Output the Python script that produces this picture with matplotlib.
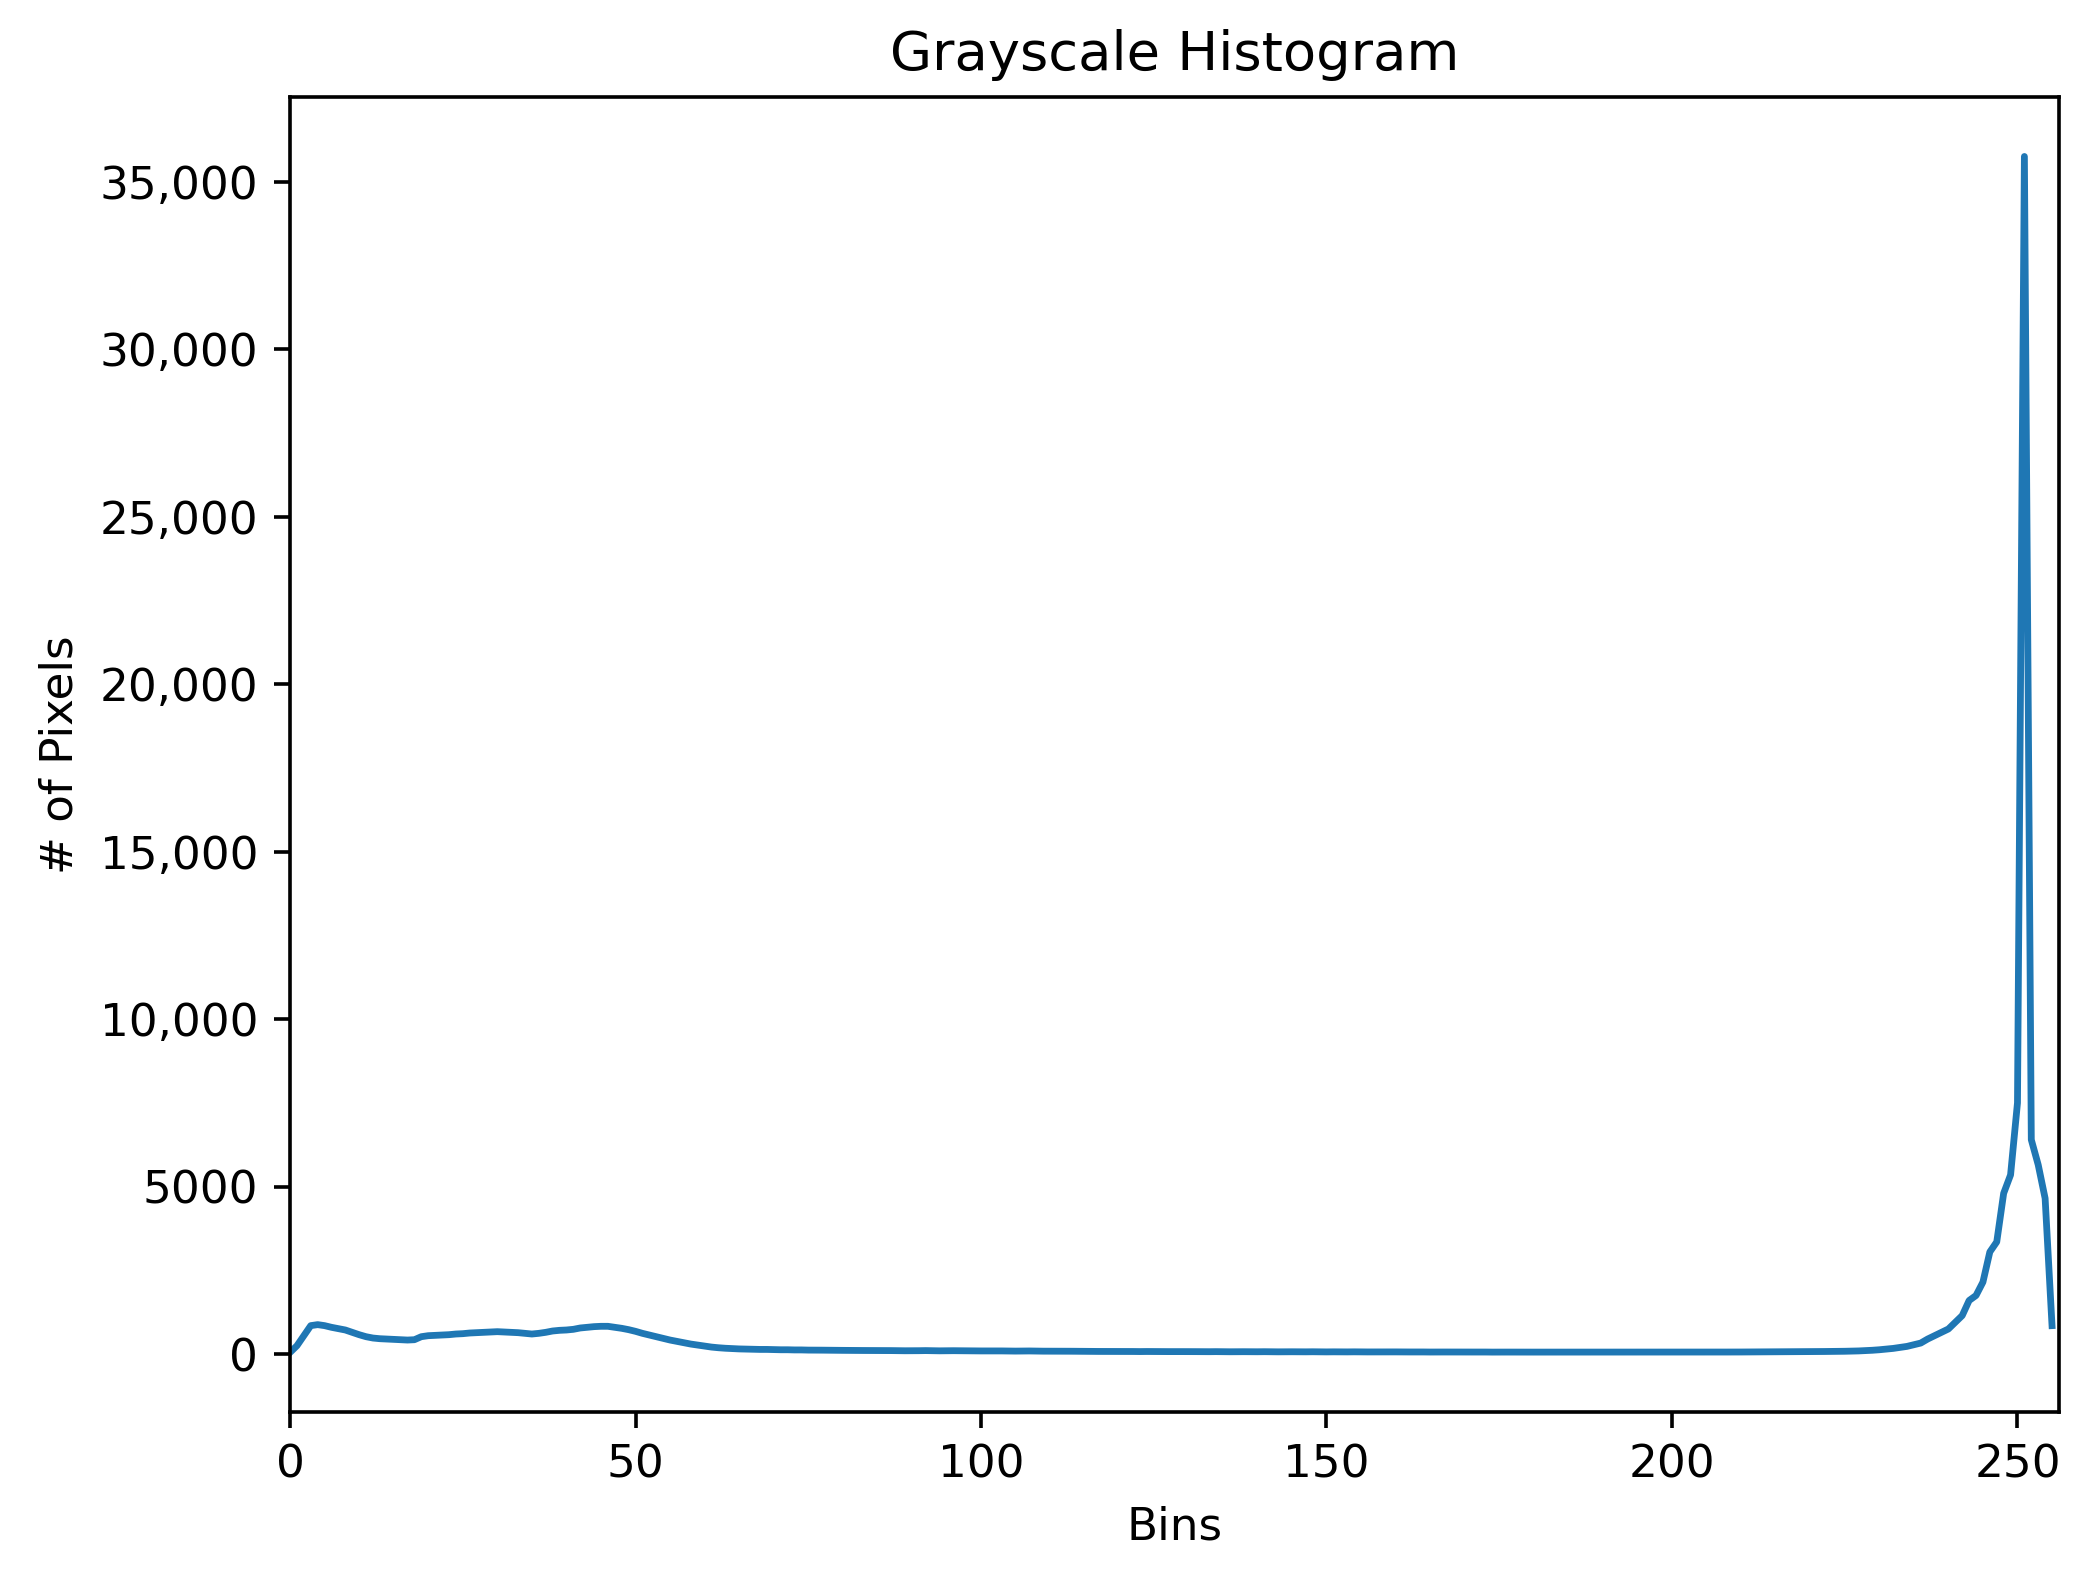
import matplotlib
matplotlib.use("Agg")
import matplotlib.pyplot as plt

# 灰度直方图：每个 bin 的像素数
bins = list(range(256))
pixels = [
    50, 250, 550, 850, 880, 850, 800, 760, 720, 650, 580, 520, 480, 460, 450, 440,
    430, 420, 430, 520, 550, 560, 570, 580, 600, 610, 630, 640, 650, 660, 670, 660,
    650, 640, 620, 600, 620, 650, 690, 710, 720, 740, 780, 800, 820, 830, 830, 800,
    770, 730, 680, 620, 570, 520, 470, 420, 380, 340, 300, 270, 240, 210, 190, 175,
    165, 155, 150, 145, 140, 140, 135, 130, 130, 125, 125, 120, 120, 118, 115, 115,
    112, 110, 110, 108, 108, 105, 105, 105, 102, 100, 100, 102, 105, 100, 98, 100,
    102, 100, 98, 96, 95, 96, 98, 95, 92, 90, 92, 94, 90, 88, 88, 86,
    85, 86, 84, 82, 82, 80, 80, 82, 80, 78, 78, 76, 78, 76, 75, 75,
    74, 75, 76, 74, 72, 72, 74, 72, 70, 72, 72, 70, 70, 72, 70, 68,
    70, 70, 68, 68, 70, 68, 66, 68, 66, 66, 68, 66, 65, 66, 64, 65,
    66, 64, 64, 65, 64, 62, 64, 63, 62, 64, 62, 62, 63, 62, 60, 62,
    61, 60, 62, 61, 60, 60, 61, 62, 60, 61, 60, 60, 62, 61, 60,
    62, 60, 62, 60, 60, 62, 60, 60, 61, 60, 60, 62, 60, 60, 62, 62,
    63, 62, 64, 63, 64, 65, 66, 66, 68, 68, 70, 70, 72, 74, 76, 78,
    80, 82, 85, 90, 95, 105, 115, 130, 150, 170, 200, 230, 280, 330, 450, 550,
    650, 750, 950, 1150, 1600, 1750, 2150, 3050, 3350, 4800, 5350, 7500, 35750, 6400, 5650, 4650,
    850,
]
assert len(pixels) == len(bins)

ytick_values = [0, 5000, 10000, 15000, 20000, 25000, 30000, 35000]
ytick_labels = ["0", "5000", "10,000", "15,000", "20,000", "25,000", "30,000", "35,000"]
xtick_values = [0, 50, 100, 150, 200, 250]

fig = plt.figure(figsize=(2085 / 326, 1590 / 326), dpi=326)
ax = fig.add_axes([0.1391, 0.1118, 0.9875 - 0.1391, 0.9392 - 0.1118])

ax.plot(bins, pixels, color="#1f77b4", linewidth=1.5)
ax.set_xlim(0, 256)
ax.set_xticks(xtick_values)
ax.set_yticks(ytick_values)
ax.set_yticklabels(ytick_labels)
ax.set_title("Grayscale Histogram")
ax.set_xlabel("Bins")
ax.set_ylabel("# of Pixels")

fig.savefig("out.png", dpi=326)
